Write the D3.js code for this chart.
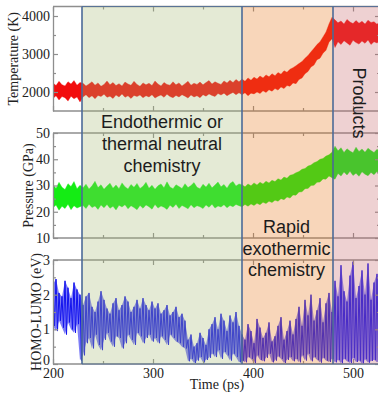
<!DOCTYPE html>
<html><head><meta charset="utf-8">
<script src="https://cdn.jsdelivr.net/npm/d3@7"></script>
<style>html,body{margin:0;padding:0;background:#fff;overflow:hidden}</style>
</head><body>
<script>
// ---------------- data ----------------
const timeGrid = d3.range(200, 528, 3); // ps, one sample every 3 ps (110 samples)

const tempHigh = [2240,2170,2280,2190,2160,2270,2210,2300,2180,2250,
 2230,2160,2210,2270,2180,2240,2150,2200,2290,2190,
 2250,2170,2220,2160,2260,2210,2180,2280,2200,2150,
 2240,2190,2230,2170,2290,2210,2160,2250,2200,2180,
 2270,2190,2240,2160,2220,2280,2180,2230,2200,2260,
 2190,2250,2300,2210,2270,2230,2200,2290,2240,2310,
 2250,2330,2270,
 2340,2280,2370,2310,2390,2340,2420,2370,2450,2400,2480,2430,2510,2470,2560,2520,2600,2640,2690,2750,2800,2890,2960,3060,3150,3250,3320,3450,3580,3790,3970,
 3900,3820,3870,3790,3910,3840,3800,3880,3810,3860,3790,3890,3830,3850,3780,3870];
const tempLow = [1830,1900,1790,1880,1850,1760,1890,1820,1870,1740,
 1870,1930,1850,1900,1820,1910,1880,1940,1860,1890,
 1830,1920,1870,1950,1860,1900,1830,1910,1880,1920,
 1850,1900,1870,1930,1840,1890,1920,1860,1940,1880,
 1850,1910,1870,1930,1890,1840,1920,1870,1900,1850,
 1930,1890,1950,1910,1880,1960,1920,1970,1900,1950,
 1990,1930,1980,
 1930,1980,1900,1970,1950,2000,1960,2030,1990,2060,2020,2090,2050,2130,2090,2170,2150,2240,2220,2330,2370,2480,2540,2660,2710,2850,2890,3020,3100,3310,3400,
 3170,3320,3250,3350,3290,3230,3360,3300,3260,3340,3280,3370,3250,3320,3290,3340];

const pressHigh = [30.4,28.9,31.2,29.3,28.5,30.7,29.6,31.5,28.8,30.1,
 29.1,30.5,28.7,29.9,31.6,29.2,30.3,28.6,29.8,30.9,
 29.0,30.2,28.8,31.0,29.5,28.7,30.4,29.3,30.8,28.9,
 29.7,31.2,29.0,30.1,28.6,29.9,30.6,29.1,31.4,29.4,
 28.8,30.3,29.6,28.9,30.7,29.2,30.0,31.1,29.3,28.8,
 30.5,29.4,30.9,29.1,30.2,31.3,29.5,30.4,29.0,30.8,
 31.5,29.8,30.6,
 30.3,29.5,30.6,29.9,31.0,30.2,31.2,30.6,31.6,31.0,32.0,31.5,32.6,32.1,33.2,32.8,33.9,34.2,34.9,35.3,36.2,36.5,37.4,37.8,38.7,39.1,40.0,40.3,41.2,41.7,42.7,
 45.0,43.2,44.4,42.6,44.0,43.1,42.5,44.6,43.0,43.9,42.7,44.2,43.3,42.6,43.8,42.9];
const pressLow = [21.5,22.6,20.6,22.1,21.2,22.9,20.8,22.3,21.4,21.9,
 22.4,21.2,22.9,21.6,22.2,20.9,22.6,21.5,22.8,21.3,
 22.1,20.7,22.5,21.8,22.7,21.1,22.3,21.6,20.8,22.4,
 21.3,22.6,21.9,21.0,22.8,21.4,22.2,21.7,20.9,22.5,
 21.6,22.9,21.2,22.4,21.8,21.1,22.7,21.5,22.3,21.9,
 21.2,22.6,21.7,22.9,21.4,22.2,21.8,22.7,21.5,22.4,
 21.9,22.8,22.3,
 21.9,22.8,22.1,23.0,22.4,23.2,22.7,23.6,23.1,24.0,23.5,24.4,24.0,25.0,24.6,25.6,25.2,26.4,26.3,27.5,27.6,28.8,28.9,30.0,30.1,31.2,31.3,32.5,32.4,33.6,33.0,
 32.4,34.6,33.6,35.1,34.0,35.4,33.8,34.7,33.5,35.2,34.3,33.7,35.0,34.1,35.3,33.9];

const gapHigh = [2.30,2.45,2.05,1.95,2.40,2.20,1.90,2.35,2.15,2.00,
 1.70,1.95,2.05,1.65,1.50,1.80,2.10,1.85,1.60,1.45,1.75,1.90,1.55,1.70,1.95,1.80,1.50,1.65,1.85,1.60,1.90,1.70,1.55,1.80,
 1.60,1.75,1.45,1.55,1.70,1.40,1.50,1.65,1.35,1.45,1.25,
 0.70,0.85,0.50,0.60,0.90,0.75,0.55,1.00,
 1.15,1.35,1.00,1.45,1.25,0.95,1.40,1.20,1.50,1.10,
 0.85,0.70,1.15,0.95,0.60,1.30,1.05,0.75,0.90,1.20,0.65,0.80,1.10,1.35,0.70,0.95,1.25,0.85,
 1.30,1.65,1.10,1.85,1.40,2.00,1.25,1.55,1.90,1.20,1.75,2.05,1.50,
 2.40,1.95,2.85,2.10,1.80,2.55,2.95,1.90,2.25,2.70,2.00,2.90,1.85,2.35,2.60,2.05];
const gapLow = [1.10,0.95,1.25,1.05,0.85,1.20,1.00,0.90,1.15,0.10,
 0.25,0.60,0.75,0.45,0.85,0.55,0.40,0.70,0.90,0.65,0.50,0.80,0.75,0.45,0.60,0.85,0.70,0.55,0.90,0.80,0.60,0.75,0.85,0.65,
 0.75,0.60,0.80,0.70,0.55,0.85,0.75,0.65,0.60,0.50,0.45,
 0.08,0.15,0.03,0.10,0.20,0.05,0.12,0.18,
 0.30,0.20,0.40,0.15,0.35,0.25,0.10,0.30,0.20,0.05,
 0.10,0.05,0.20,0.15,0.02,0.25,0.12,0.08,0.18,0.30,0.05,0.10,0.22,0.15,0.03,0.12,0.20,0.08,
 0.15,0.05,0.25,0.10,0.30,0.08,0.20,0.12,0.04,0.18,0.10,0.06,0.15,
 0.05,0.12,0.02,0.15,0.08,0.03,0.18,0.06,0.10,0.01,0.14,0.04,0.09,0.12,0.05,0.10];

const xTicks = [200, 300, 400, 500];
const xMinor = [250, 350, 450];
const tempTicks = [2000, 3000, 4000];
const tempMinor = [2500, 3500];
const pressTicks = [10, 20, 30, 40, 50];
const pressMinor = [15, 25, 35, 45];
const gapTicks = [0, 1, 2, 3];
const gapMinor = [0.5, 1.5, 2.5];

const regionBounds = [229, 389, 480, 540];
const regionNames = ["endo", "exo", "products"];
const regionColors = ["#a5b973", "#e87619", "#c66669"];

const labelEndo = ["Endothermic or", "thermal neutral", "chemistry"];
const labelExo = ["Rapid", "exothermic", "chemistry"];
const labelProducts = "Products";

// ---------------- drawing ----------------
const W = 378, H = 393;
const svg = d3.select("body").append("svg").attr("width", W).attr("height", H);
const x = d3.scaleLinear().domain([200, 527]).range([53, 380]);

const panels = [
  {id:"t", y: d3.scaleLinear().domain([1500, 4250]).range([111, 6.5]), hi: tempHigh, lo: tempLow,
   color: "#f20d0d", major: tempTicks, minor: tempMinor, title: "Temperature (K)", tx: 13, band: true},
  {id:"p", y: d3.scaleLinear().domain([10, 50]).range([238, 133]), hi: pressHigh, lo: pressLow,
   color: "#14ec14", major: pressTicks, minor: pressMinor, title: "Pressure (GPa)", tx: 28, band: true},
  {id:"g", y: d3.scaleLinear().domain([0, 3]).range([364, 260]), hi: gapHigh, lo: gapLow,
   color: "#1212ee", major: gapTicks, minor: gapMinor, title: "HOMO-LUMO (eV)", tx: 36, band: false}
];

const frameColor = "#8e8e8e";
const serif = "'Liberation Serif','Times New Roman',serif";
const sans = "'Liberation Sans',Arial,sans-serif";

const defs = svg.append("defs");

panels.forEach((p, pi) => {
  const [yb, yt] = p.y.range();
  defs.append("clipPath").attr("id", "clip-" + p.id)
    .append("rect").attr("x", x.range()[0]).attr("y", yt)
    .attr("width", x.range()[1] - x.range()[0]).attr("height", yb - yt);

  const g = svg.append("g");
  const dg = g.append("g").attr("clip-path", `url(#clip-${p.id})`);
  const pts = timeGrid.map((t, i) => ({t, hi: p.hi[i], lo: p.lo[i]}));

  dg.append("path").datum(pts)
    .attr("d", d3.area().x(d => x(d.t)).y0(d => p.y(d.lo)).y1(d => p.y(d.hi)))
    .attr("fill", p.color).attr("fill-opacity", p.band ? 1 : 0.55)
    .attr("stroke", p.band ? p.color : "none").attr("stroke-width", 0.8).attr("stroke-opacity", 0.45);
  if (!p.band) {
    const zig = [];
    pts.forEach(d => { zig.push([d.t, d.hi]); zig.push([d.t + 1.5, d.lo]); });
    dg.append("path").datum(zig)
      .attr("d", d3.line().x(d => x(d[0])).y(d => p.y(d[1])))
      .attr("fill", "none").attr("stroke", p.color).attr("stroke-width", 1);
  }

  // frame top/bottom
  [yt, yb].forEach(yy => g.append("line").attr("x1", x.range()[0]).attr("x2", x.range()[1] + 5)
    .attr("y1", yy).attr("y2", yy).attr("stroke", frameColor).attr("stroke-width", 1.3));

  // left axis majors with labels
  const ax = g.append("g").attr("transform", `translate(${x.range()[0]},0)`)
    .call(d3.axisLeft(p.y).tickValues(p.major).tickSizeInner(-5).tickSizeOuter(0).tickPadding(3)
      .tickFormat(d3.format("d")));
  ax.select(".domain").attr("stroke", frameColor).attr("stroke-width", 1.3);
  ax.selectAll(".tick line").attr("stroke", frameColor).attr("stroke-width", 1.2);
  ax.selectAll(".tick text").attr("font-family", serif).attr("font-size", 14).attr("fill", "#222");
  if (pi === panels.length - 1) ax.selectAll(".tick text").filter(d => d === 0).attr("dy", "0.05em");
  const axm = g.append("g").attr("transform", `translate(${x.range()[0]},0)`)
    .call(d3.axisLeft(p.y).tickValues(p.minor).tickSizeInner(-3).tickSizeOuter(0).tickFormat(""));
  axm.select(".domain").remove();
  axm.selectAll(".tick line").attr("stroke", frameColor).attr("stroke-width", 1.2);
  // right axis ticks
  [[p.major, 5], [p.minor, 3]].forEach(([vals, len]) => {
    const a = g.append("g").attr("transform", `translate(${x.range()[1]},0)`)
      .call(d3.axisRight(p.y).tickValues(vals).tickSizeInner(-len).tickSizeOuter(0).tickFormat(""));
    a.select(".domain").remove();
    a.selectAll(".tick line").attr("stroke", frameColor).attr("stroke-width", 1.2);
  });

  // x ticks top and bottom (inward)
  const isLast = pi === panels.length - 1;
  const bx = g.append("g").attr("transform", `translate(0,${yb})`)
    .call(d3.axisBottom(x).tickValues(xTicks).tickSizeInner(-5).tickSizeOuter(0).tickPadding(4)
      .tickFormat(isLast ? d3.format("d") : ""));
  bx.select(".domain").remove();
  bx.selectAll(".tick line").attr("stroke", frameColor).attr("stroke-width", 1.2);
  bx.selectAll(".tick text").attr("font-family", serif).attr("font-size", 14).attr("fill", "#222");
  [[xMinor, yb, 3, d3.axisBottom], [xTicks, yt, 5, d3.axisTop], [xMinor, yt, 3, d3.axisTop]].forEach(([vals, yy, len, fn]) => {
    const a = g.append("g").attr("transform", `translate(0,${yy})`)
      .call(fn(x).tickValues(vals).tickSizeInner(-len).tickSizeOuter(0).tickFormat(""));
    a.select(".domain").remove();
    a.selectAll(".tick line").attr("stroke", frameColor).attr("stroke-width", 1.2);
  });

  // y title
  svg.append("text").attr("transform", `translate(${p.tx},${(yt + yb) / 2}) rotate(-90)`)
    .attr("text-anchor", "middle").attr("dy", "0.35em")
    .attr("font-family", serif).attr("font-size", 14).attr("fill", "#222").text(p.title);
});

// x title
svg.append("text").attr("x", 217).attr("y", 389).attr("text-anchor", "middle")
  .attr("font-family", serif).attr("font-size", 14).attr("fill", "#222").text("Time (ps)");

// shaded regions
const yTop = panels[0].y.range()[1], yBot = panels[2].y.range()[0];
const regions = regionNames.map((n, i) => ({name: n, from: regionBounds[i], to: regionBounds[i + 1], color: regionColors[i]}));
svg.append("g").selectAll("rect").data(regions).join("rect")
  .attr("x", d => x(d.from)).attr("width", d => x(d.to) - x(d.from))
  .attr("y", yTop).attr("height", yBot - yTop)
  .attr("fill", d => d.color).attr("fill-opacity", 0.3);
// boundary lines
svg.append("g").selectAll("line").data(regionBounds.slice(0, 3)).join("line")
  .attr("x1", d => x(d)).attr("x2", d => x(d)).attr("y1", yTop).attr("y2", yBot)
  .attr("stroke", "#4b6a98").attr("stroke-width", 1.6);
[yTop, yBot].forEach(yy => svg.append("line").attr("x1", x(regionBounds[0])).attr("x2", W)
  .attr("y1", yy).attr("y2", yy).attr("stroke", "#4b6a98").attr("stroke-width", 1).attr("stroke-opacity", 0.8));

// annotations
const ann = svg.append("g").attr("font-family", sans).attr("font-size", 18).attr("fill", "#1c1c1c")
  .attr("text-anchor", "middle");
labelEndo.forEach((s, i) => ann.append("text").attr("x", 162).attr("y", 128 + i * 22).text(s));
labelExo.forEach((s, i) => ann.append("text").attr("x", 286.5).attr("y", 233 + i * 21.5).text(s));
ann.append("text").attr("transform", "translate(353,103) rotate(90)").attr("text-anchor", "middle")
  .text(labelProducts);
</script>
</body></html>
